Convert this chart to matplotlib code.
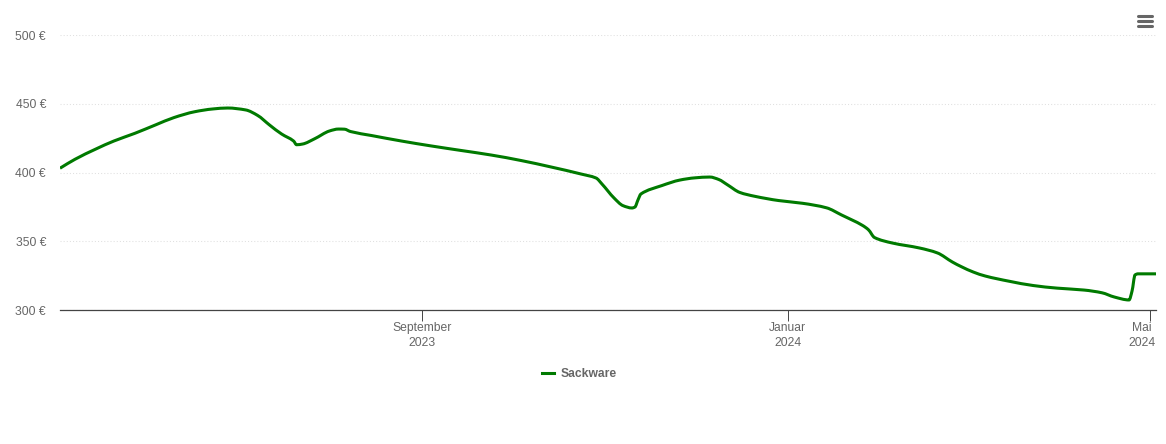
import matplotlib
matplotlib.use("Agg")
import matplotlib.pyplot as plt
import matplotlib.dates as mdates
import matplotlib.transforms as mtrans
import numpy as np
import pandas as pd
from matplotlib.lines import Line2D
from matplotlib.patches import PathPatch
from matplotlib.path import Path

plt.rcParams['font.family'] = ['Liberation Sans', 'DejaVu Sans']

series_name = "Sackware"

dates = [
    "2023-05-03", "2023-05-08", "2023-05-15", "2023-05-21", "2023-05-28", "2023-06-04",
    "2023-06-10", "2023-06-17", "2023-06-23", "2023-06-28", "2023-07-04", "2023-07-08",
    "2023-07-12", "2023-07-16", "2023-07-20", "2023-07-21", "2023-07-23", "2023-07-27",
    "2023-08-01", "2023-08-04", "2023-08-06", "2023-08-08", "2023-08-15", "2023-08-25",
    "2023-09-04", "2023-09-14", "2023-09-24", "2023-10-04", "2023-10-14", "2023-10-24",
    "2023-10-29", "2023-10-31", "2023-11-04", "2023-11-07", "2023-11-10", "2023-11-11",
    "2023-11-12", "2023-11-13", "2023-11-20", "2023-11-26", "2023-12-01", "2023-12-06",
    "2023-12-09", "2023-12-12", "2023-12-16", "2023-12-21", "2023-12-29", "2024-01-06",
    "2024-01-14", "2024-01-19", "2024-01-26", "2024-01-28", "2024-01-30", "2024-02-05",
    "2024-02-14", "2024-02-20", "2024-02-25", "2024-02-28", "2024-03-03", "2024-03-07",
    "2024-03-15", "2024-03-23", "2024-03-31", "2024-04-09", "2024-04-15", "2024-04-19",
    "2024-04-24", "2024-04-25", "2024-04-26", "2024-04-27", "2024-05-03",
]
prices = [
    403.1, 409.6, 417.1, 422.9, 428.5, 434.7,
    439.9, 444.2, 446.2, 446.9, 445.5, 441.5,
    434.5, 428.0, 422.9, 420.2, 420.7, 424.5,
    430.2, 431.6, 431.5, 429.8, 426.9, 422.9,
    419.3, 416.0, 412.7, 408.7, 404.0, 398.9,
    396.0, 391.6, 381.5, 375.9, 374.2, 374.9,
    380.0, 384.4, 390.5, 394.5, 396.1, 396.7,
    394.9, 390.9, 385.5, 382.7, 379.6, 377.6,
    374.3, 369.1, 361.5, 358.3, 352.7, 348.7,
    345.1, 341.5, 334.9, 331.5, 327.6, 324.7,
    320.9, 317.8, 315.9, 314.5, 312.5, 309.5,
    307.3, 313.8, 325.5, 326.3, 326.3,
]

y_ticks = [300, 350, 400, 450, 500]
x_ticks = ["2023-09-01", "2024-01-01", "2024-05-01"]
x_tick_labels = ["September\n2023", "Januar\n2024", "Mai\n2024"]

GREEN = "#007a00"
GREY = "#666666"
W, H = 1166, 444


def spline_path(xs, ys):
    # bezier through the points, flat at the turning points, like a spline series
    h = np.diff(xs)
    s = np.diff(ys) / h
    m = np.zeros(len(xs))
    for i in range(1, len(xs) - 1):
        if s[i - 1] * s[i] > 0:
            m[i] = 2 * s[i - 1] * s[i] / (s[i - 1] + s[i])
    m[0], m[-1] = s[0], s[-1]
    verts = [(xs[0], ys[0])]
    for i in range(len(h)):
        verts.append((xs[i] + h[i] / 3, ys[i] + m[i] * h[i] / 3))
        verts.append((xs[i + 1] - h[i] / 3, ys[i + 1] - m[i + 1] * h[i] / 3))
        verts.append((xs[i + 1], ys[i + 1]))
    codes = [Path.MOVETO] + [Path.CURVE4] * (len(verts) - 1)
    return Path(verts, codes)


fig = plt.figure(figsize=(W / 100, H / 100), dpi=100)
ax = fig.add_axes([60 / W, 1 - 310 / H, 1096 / W, 275 / H])

x = mdates.date2num(pd.to_datetime(dates))
ax.add_patch(PathPatch(spline_path(x, np.array(prices)), fill=False, edgecolor=GREEN, lw=2.2,
                       joinstyle="round", capstyle="butt"))

ax.xaxis_date()
ax.set_xlim(pd.Timestamp("2023-05-03"), pd.Timestamp("2024-05-03"))
ax.set_ylim(300, 500)

ax.set_yticks(y_ticks)
ax.set_yticklabels([f"{v} €" for v in y_ticks])
ax.set_xticks(pd.to_datetime(x_ticks))
ax.set_xticklabels(x_tick_labels, linespacing=1.3)

ax.grid(axis="y", color="#e0e0e0", lw=0.75, ls=(0, (1, 2)))
ax.set_axisbelow(True)
for s in ["top", "right", "left"]:
    ax.spines[s].set_visible(False)
ax.spines["bottom"].set_color("#444444")
ax.spines["bottom"].set_linewidth(0.9)
ax.tick_params(axis="y", length=0, pad=10, labelsize=8.7, labelcolor=GREY)
ax.tick_params(axis="x", length=8, width=0.7, color="#444444", pad=0.5, labelsize=8.7, labelcolor=GREY)

# Mai label is pushed left so it stays inside the plot
mai = ax.get_xticklabels()[-1]
mai.set_transform(mai.get_transform() + mtrans.ScaledTranslation(-8 / 100, 0, fig.dpi_scale_trans))

# legend
handle = Line2D([], [], color=GREEN, lw=2.2, label=series_name)
ax.legend(handles=[handle], loc="upper left", bbox_to_anchor=(0.4395, -0.21), frameon=False, handlelength=1.05,
          handletextpad=0.5, borderpad=0, borderaxespad=0,
          prop={"size": 8.7, "weight": "bold"}, labelcolor=GREY)

# menu icon
for y in [16, 21, 26]:
    fig.add_artist(Line2D([1138 / W, 1152 / W], [1 - y / H, 1 - y / H], color=GREY, lw=2.2,
                          solid_capstyle="round"))

fig.savefig("out.png", dpi=100)
